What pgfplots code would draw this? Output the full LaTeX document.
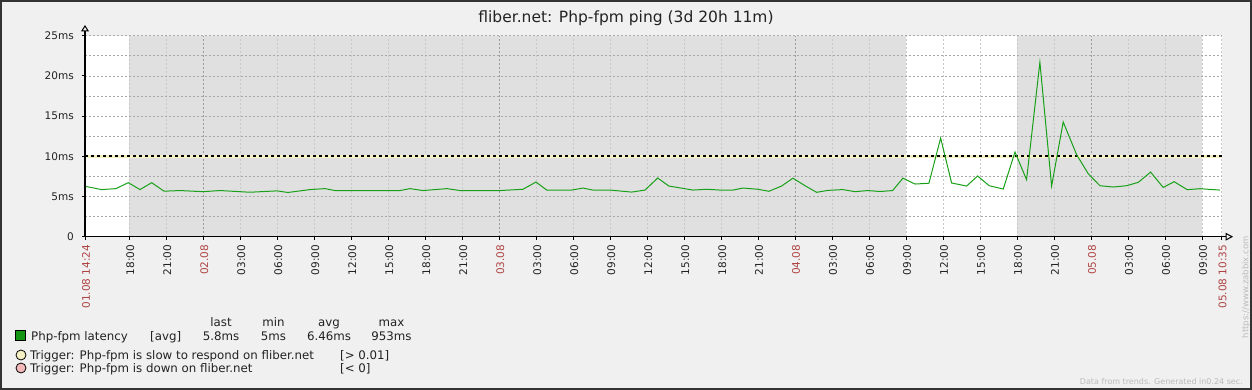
\documentclass[border=0pt]{standalone}
\usepackage{pgfplots}
\pgfplotsset{compat=1.18}
\usepackage{fontspec}
\setmainfont{DejaVu Sans}
\definecolor{bgc}{HTML}{F0F0F0}
\definecolor{framec}{HTML}{333333}
\definecolor{band}{HTML}{E0E0E0}
\definecolor{zred}{HTML}{B04444}
\definecolor{txt}{HTML}{222222}
\definecolor{gridv}{HTML}{C8C8C8}
\definecolor{gridh}{HTML}{A8A8A8}
\definecolor{gridd}{HTML}{9A9A9A}
\definecolor{lineg}{RGB}{25,160,25}
\definecolor{sqg}{RGB}{20,150,20}
\definecolor{trigy}{HTML}{F6F1C4}
\definecolor{trigr}{HTML}{F4B8B8}
\definecolor{wm}{HTML}{BBBBBB}

\pgfplotstableread{
h ms
14.4 6.27
15.75 5.86
16.91 5.98
17.91 6.72
18.86 5.86
19.81 6.72
20.81 5.66
22.1 5.74
23.97 5.6
25.35 5.74
26.97 5.6
27.78 5.53
29.97 5.7
30.86 5.5
32.65 5.86
33.86 5.98
34.68 5.74
39.95 5.74
40.76 5.98
41.81 5.74
43.76 5.98
44.81 5.74
48.06 5.74
49.92 5.9
50.98 6.8
51.85 5.8
53.87 5.8
54.79 6.05
55.6 5.8
56.98 5.8
58.74 5.55
59.82 5.8
60.85 7.3
61.76 6.3
63.71 5.8
64.85 5.9
65.9 5.8
66.95 5.8
67.77 6.05
68.98 5.9
69.87 5.65
70.9 6.3
71.82 7.28
72.79 6.35
73.74 5.52
74.66 5.76
75.88 5.86
76.85 5.6
77.9 5.74
78.88 5.62
79.91 5.74
80.74 7.28
81.72 6.55
82.85 6.65
83.8 12.27
84.69 6.68
85.91 6.3
86.8 7.55
87.74 6.34
88.88 5.93
89.83 10.53
90.77 7.09
91.85 21.7
92.8 6.3
93.74 14.27
94.83 10.2
95.77 7.84
96.72 6.34
97.8 6.18
98.88 6.34
99.83 6.76
100.83 8.04
101.85 6.13
102.74 6.84
103.8 5.85
104.83 5.97
106.45 5.8
}\latency

\begin{document}
\begin{tikzpicture}
\fill[bgc] (0pt,0pt) rectangle (1252pt,-390pt);
\draw[framec, line width=2pt] (1pt,-1pt) rectangle (1251pt,-389pt);
% plot area background: white, with non-working-time bands
\fill[white] (85pt,-35.7pt) rectangle (1221.5pt,-236.7pt);
\fill[band] (129.38pt,-35.7pt) rectangle (906.09pt,-236.7pt);
\fill[band] (1017.05pt,-35.7pt) rectangle (1201.98pt,-236.7pt);
\node[anchor=base, text=txt, font=\fontsize{15.5}{18}\selectfont] at (626pt,-23pt) {fliber.net: Php-fpm ping (3d 20h 11m)};

\begin{axis}[
  at={(85pt,-236.7pt)}, anchor=south west,
  scale only axis, width=1136.5pt, height=201pt,
  xmin=14.4, xmax=106.583, ymin=0, ymax=25,
  axis x line=bottom, axis y line=left,
  axis line style={line width=1.5pt, -},
  tick align=outside, major tick length=3pt, minor tick length=0pt,
  tick style={black, line width=1pt},
  xtick={14.4,18,21,24,27,30,33,36,39,42,45,48,51,54,57,60,63,66,69,72,75,78,81,84,87,90,93,96,99,102,105,106.583},
  xticklabels={{\textcolor{zred}{01.08 14:24}},18:00,21:00,{\textcolor{zred}{02.08}},03:00,06:00,09:00,12:00,15:00,18:00,21:00,{\textcolor{zred}{03.08}},03:00,06:00,09:00,12:00,15:00,18:00,21:00,{\textcolor{zred}{04.08}},03:00,06:00,09:00,12:00,15:00,18:00,21:00,{\textcolor{zred}{05.08}},03:00,06:00,09:00,{\textcolor{zred}{05.08 10:35}}},
  ytick={0,5,10,15,20,25},
  yticklabels={0,5ms,10ms,15ms,20ms,25ms},
  minor ytick={2.5,7.5,12.5,17.5,22.5},
  xmajorgrids, ymajorgrids, yminorgrids,
  x grid style={dash pattern=on 2pt off 2pt, gridv, line width=0.8pt},
  y grid style={dash pattern=on 2pt off 2pt, gridh, line width=0.8pt},
  ticklabel style={font=\fontsize{10.5}{12}\selectfont, text=txt},
  xticklabel style={rotate=90, anchor=east, inner sep=0pt, xshift=-5pt, yshift=-1pt},
  yticklabel style={anchor=east, inner sep=0pt, xshift=-8pt},
  clip=false,
]
\addplot[gridd, dash pattern=on 2pt off 2pt, line width=0.8pt] coordinates {(24,0) (24,25)};
\addplot[gridd, dash pattern=on 2pt off 2pt, line width=0.8pt] coordinates {(48,0) (48,25)};
\addplot[gridd, dash pattern=on 2pt off 2pt, line width=0.8pt] coordinates {(72,0) (72,25)};
\addplot[gridd, dash pattern=on 2pt off 2pt, line width=0.8pt] coordinates {(96,0) (96,25)};
\addplot[trigy, line width=3pt] coordinates {(14.4,10) (106.583,10)};
\addplot[black, line width=2pt, dash pattern=on 3pt off 3pt] coordinates {(14.4,10) (106.583,10)};
\addplot[lineg, line width=1pt] table[x=h, y=ms] {\latency};
\end{axis}

% axis arrows
\draw[black, line width=1.5pt] (85pt,-236.7pt) -- (1226pt,-236.7pt);
\draw[black, line width=1pt, fill=bgc] (1226pt,-233.5pt) -- (1232pt,-236.7pt) -- (1226pt,-239.9pt) -- cycle;
\draw[black, line width=1.5pt] (85pt,-236.7pt) -- (85pt,-31pt);
\draw[black, line width=1pt, fill=bgc] (81.8pt,-31pt) -- (85pt,-26pt) -- (88.2pt,-31pt) -- cycle;

% legend
\begin{scope}[every node/.style={text=txt, font=\fontsize{11.8}{14}\selectfont, inner sep=0pt}]
\node[anchor=base] at (221pt,-326.3pt) {last};
\node[anchor=base] at (273.5pt,-326.3pt) {min};
\node[anchor=base] at (329pt,-326.3pt) {avg};
\node[anchor=base] at (391.5pt,-326.3pt) {max};
\fill[sqg, draw=black, line width=0.8pt] (15.5pt,-330.5pt) rectangle (25.5pt,-340.5pt);
\node[anchor=base west] at (31pt,-340.5pt) {Php-fpm latency};
\node[anchor=base west] at (150pt,-340.5pt) {[avg]};
\node[anchor=base] at (221pt,-340.5pt) {5.8ms};
\node[anchor=base] at (273.5pt,-340.5pt) {5ms};
\node[anchor=base] at (329pt,-340.5pt) {6.46ms};
\node[anchor=base] at (391.5pt,-340.5pt) {953ms};
\draw[black, line width=0.8pt, fill=trigy] (21pt,-355pt) circle (5pt);
\node[anchor=base west] at (30pt,-359.3pt) {Trigger: Php-fpm is slow to respond on fliber.net};
\node[anchor=base west] at (340pt,-359.3pt) {[> 0.01]};
\draw[black, line width=0.8pt, fill=trigr] (21pt,-368pt) circle (5pt);
\node[anchor=base west] at (30pt,-372.7pt) {Trigger: Php-fpm is down on fliber.net};
\node[anchor=base west] at (340pt,-372.7pt) {[< 0]};
\end{scope}

\node[rotate=90, anchor=east, text=wm, font=\fontsize{8.5}{10}\selectfont, inner sep=0pt] at (1246pt,-236pt) {https://www.zabbix.com};
\node[anchor=base east, text=wm, font=\fontsize{8}{10}\selectfont, inner sep=0pt] at (1243pt,-384pt) {Data from trends. Generated in0.24 sec.};
\end{tikzpicture}
\end{document}
